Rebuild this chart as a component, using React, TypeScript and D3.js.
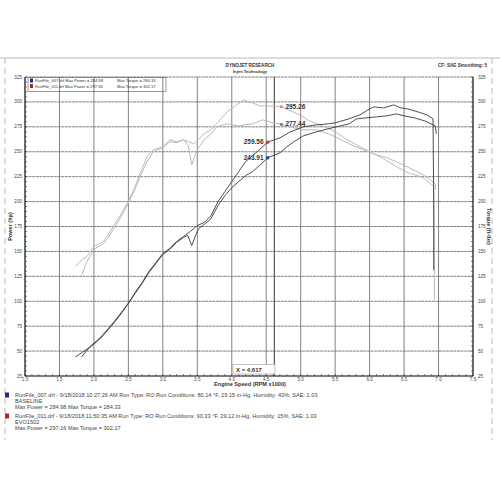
import React from "react";
import * as d3 from "d3";

const xTicks = [1.0, 1.5, 2.0, 2.5, 3.0, 3.5, 4.0, 4.5, 5.0, 5.5, 6.0, 6.5, 7.0, 7.5];
const yTicks = [25, 50, 75, 100, 125, 150, 175, 200, 225, 250, 275, 300, 325];

// EVO1502 run (RunFile_011)
const evoPower: [number, number][] = [
  [1.73, 44], [1.9, 52], [2.0, 58], [2.1, 64], [2.2, 72], [2.3, 80], [2.4, 89], [2.5, 98], [2.6, 109],
  [2.7, 119], [2.8, 130], [2.9, 139], [3.0, 148], [3.1, 153], [3.2, 160], [3.3, 165], [3.4, 170],
  [3.5, 176], [3.6, 179], [3.7, 186], [3.8, 200], [3.9, 210], [4.0, 220], [4.1, 230], [4.2, 240],
  [4.3, 246], [4.4, 252], [4.52, 259.6], [4.7, 264], [4.85, 270], [5.04, 275], [5.23, 277],
  [5.4, 278], [5.5, 279], [5.6, 281], [5.7, 283], [5.86, 287], [5.95, 291], [6.06, 295], [6.2, 294],
  [6.35, 297], [6.45, 294], [6.55, 293], [6.7, 290], [6.83, 287], [6.92, 283], [6.93, 200], [6.93, 131],
];
const evoTorque: [number, number][] = [
  [1.73, 135], [1.8, 140], [1.9, 145], [2.0, 155], [2.14, 160], [2.2, 166], [2.28, 175], [2.38, 186],
  [2.48, 198], [2.58, 212], [2.67, 228], [2.77, 245], [2.86, 252], [3.0, 255], [3.1, 262], [3.2, 260],
  [3.3, 262], [3.45, 258], [3.6, 268], [3.7, 272], [3.78, 278], [3.93, 290], [4.05, 296], [4.17, 302],
  [4.3, 299], [4.41, 296], [4.55, 296], [4.72, 295.3], [4.85, 291], [4.99, 287], [5.1, 282],
  [5.23, 278], [5.35, 275], [5.5, 270], [5.65, 263], [5.81, 257], [6.0, 250], [6.2, 243],
  [6.39, 235], [6.5, 231], [6.59, 228], [6.7, 226], [6.8, 223], [6.93, 215], [6.94, 160], [6.94, 101],
];
// BASELINE run (RunFile_007)
const basePower: [number, number][] = [
  [1.82, 44], [1.9, 51], [2.0, 57], [2.1, 63], [2.2, 71], [2.3, 79], [2.4, 88], [2.5, 98], [2.6, 108],
  [2.7, 118], [2.8, 129], [2.9, 138], [3.0, 147], [3.1, 152], [3.2, 159], [3.3, 164], [3.36, 166],
  [3.42, 156], [3.47, 165], [3.52, 173], [3.6, 177], [3.7, 183], [3.8, 196], [3.9, 206], [4.0, 214],
  [4.1, 220], [4.2, 226], [4.3, 230], [4.4, 236], [4.52, 243.9], [4.7, 249], [4.8, 255], [4.9, 260],
  [5.04, 266], [5.23, 270], [5.4, 273], [5.52, 275], [5.7, 278], [5.81, 283], [5.95, 284],
  [6.1, 285], [6.25, 286], [6.39, 288], [6.5, 286], [6.65, 284], [6.8, 281], [6.95, 276], [6.97, 268],
];
const baseTorque: [number, number][] = [
  [1.82, 126], [1.9, 140], [2.0, 152], [2.14, 158], [2.2, 163], [2.28, 172], [2.38, 183], [2.48, 196],
  [2.58, 210], [2.67, 225], [2.77, 240], [2.86, 250], [3.0, 254], [3.1, 260], [3.2, 259], [3.3, 262],
  [3.37, 256], [3.42, 237], [3.46, 245], [3.5, 252], [3.6, 262], [3.7, 268], [3.78, 275], [3.93, 278],
  [4.1, 276], [4.3, 278], [4.45, 282], [4.6, 279], [4.72, 277.4], [4.9, 274], [5.04, 272], [5.23, 272],
  [5.4, 268], [5.5, 265], [5.7, 258], [5.91, 252], [6.1, 247], [6.25, 244], [6.39, 240], [6.6, 233],
  [6.8, 226], [6.95, 218], [6.96, 212],
];

const cursorRpm = 4.617;
const powerMarkers = [
  { rpm: 4.52, value: 259.56, color: "#c0392b" },
  { rpm: 4.52, value: 243.91, color: "#1f3a93" },
];
const torqueMarkers = [
  { rpm: 4.72, value: 295.26, color: "#e08080" },
  { rpm: 4.72, value: 277.44, color: "#6070b0" },
];

const runs = [
  {
    file: "RunFile_007.drf - 9/18/2018 10:27:26 AM  Run Type: RO  Run Conditions: 80.14 °F, 29.15 in-Hg,  Humidity: 43%,  SAE: 1.03",
    name: "BASELINE",
    max: "Max Power = 284.98  Max Torque = 284.33",
    top: "RunFile_007.drf Max Power = 284.98",
    topT: "Max Torque = 284.33",
    color: "#1f2a8c",
  },
  {
    file: "RunFile_011.drf - 9/18/2018 11:50:35 AM  Run Type: RO  Run Conditions: 90.33 °F, 29.12 in-Hg,  Humidity: 15%,  SAE: 1.03",
    name: "EVO1502",
    max: "Max Power = 297.16  Max Torque = 302.17",
    top: "RunFile_011.drf Max Power = 297.16",
    topT: "Max Torque = 302.17",
    color: "#b22222",
  },
];

export default function App() {
  const x = d3.scaleLinear().domain([1, 7.5]).range([25, 473]);
  const y = d3.scaleLinear().domain([25, 325]).range([376, 77]);
  const line = d3.line<[number, number]>().x((d) => x(d[0])).y((d) => y(d[1]));
  const minorX = d3.range(10, 76).map((v) => v / 10);
  const minorY = d3.range(25, 326, 5);
  const font = "Arial, 'Liberation Sans', sans-serif";

  return (
    <svg width={500} height={500} style={{ position: "absolute", left: 0, top: 0, background: "#fff" }} fontFamily={font}>
      <rect width={500} height={500} fill="#fff" />
      {/* outer frame */}
      <line x1={0} x2={500} y1={58} y2={58} stroke="#bbb" strokeWidth={1.2} />
      <line x1={5} x2={5} y1={58} y2={440} stroke="#bbb" strokeDasharray="6,4" />
      <line x1={492} x2={492} y1={58} y2={440} stroke="#bbb" strokeDasharray="6,4" />

      {/* header */}
      <text x={250} y={67} fontSize={4.6} fontWeight="bold" textAnchor="middle" fill="#333">DYNOJET RESEARCH</text>
      <text x={250} y={72.5} fontSize={4.2} fontWeight="bold" textAnchor="middle" fill="#333">Injen Technology</text>
      <text x={487} y={67} fontSize={4.6} fontWeight="bold" textAnchor="end" fill="#333">CF: SAE  Smoothing: 5</text>

      {/* grid */}
      {xTicks.map((t) => (
        <line key={"gx" + t} x1={x(t)} x2={x(t)} y1={y(325)} y2={y(25)} stroke="#6a6a6a" strokeWidth={0.85} />
      ))}
      {yTicks.map((t) => (
        <line key={"gy" + t} x1={x(1)} x2={x(7.5)} y1={y(t)} y2={y(t)} stroke="#6a6a6a" strokeWidth={0.85} strokeDasharray="3,0.6" />
      ))}

      {/* axes */}
      <line x1={x(1)} x2={x(1)} y1={y(325)} y2={y(25)} stroke="#333" strokeWidth={1.2} />
      <line x1={x(7.5)} x2={x(7.5)} y1={y(325)} y2={y(25)} stroke="#333" strokeWidth={1.2} />
      <line x1={x(1)} x2={x(7.5)} y1={y(25)} y2={y(25)} stroke="#333" strokeWidth={1.2} />
      {minorX.map((t) => (
        <line key={"mx" + t} x1={x(t)} x2={x(t)} y1={y(25)} y2={y(25) - 2} stroke="#333" strokeWidth={0.6} />
      ))}
      {minorY.map((t) => (
        <g key={"my" + t}>
          <line x1={x(1)} x2={x(1) + 2} y1={y(t)} y2={y(t)} stroke="#333" strokeWidth={0.6} />
          <line x1={x(7.5)} x2={x(7.5) - 2} y1={y(t)} y2={y(t)} stroke="#333" strokeWidth={0.6} />
        </g>
      ))}
      {yTicks.map((t) => (
        <g key={"yl" + t}>
          <text x={22} y={y(t) + 1.5} fontSize={4.6} textAnchor="end" fill="#444">{t}</text>
          <text x={478} y={y(t) + 1.5} fontSize={4.6} textAnchor="start" fill="#444">{t}</text>
        </g>
      ))}
      {xTicks.map((t) => (
        <text key={"xl" + t} x={x(t)} y={380.5} fontSize={4.6} textAnchor="middle" fill="#444">{t.toFixed(1)}</text>
      ))}
      <text transform={`translate(12,${y(175)}) rotate(-90)`} fontSize={5.5} fontWeight="bold" textAnchor="middle" fill="#333">Power (hp)</text>
      <text transform={`translate(487,${y(175)}) rotate(90)`} fontSize={5.5} fontWeight="bold" textAnchor="middle" fill="#333">Torque (ft-lbs)</text>
      <text x={250} y={385.5} fontSize={5.6} fontWeight="bold" textAnchor="middle" fill="#333">Engine Speed (RPM x1000)</text>

      {/* cursor */}
      <line x1={x(cursorRpm)} x2={x(cursorRpm)} y1={y(325)} y2={y(25)} stroke="#333" strokeWidth={1} />
      <rect x={233} y={364.5} width={42} height={9.5} fill="#fff" stroke="#999" strokeWidth={0.6} />
      <text x={236} y={371.5} fontSize={6} fontWeight="bold" fill="#333">X = 4.617</text>

      {/* curves */}
      <path d={line(baseTorque) || ""} fill="none" stroke="#b8b8be" strokeWidth={1} />
      <path d={line(evoTorque) || ""} fill="none" stroke="#c4b8b8" strokeWidth={1} />
      <path d={line(basePower) || ""} fill="none" stroke="#3a3a48" strokeWidth={0.9} />
      <path d={line(evoPower) || ""} fill="none" stroke="#4a3535" strokeWidth={0.9} />

      {/* markers */}
      {powerMarkers.map((m) => (
        <g key={"pm" + m.value}>
          <rect x={x(m.rpm) - 1.5} y={y(m.value) - 1.5} width={3} height={3} fill={m.color} />
          <text x={x(m.rpm) - 4} y={y(m.value) + 2} fontSize={6.5} fontWeight="bold" textAnchor="end" fill="#333">{m.value.toFixed(2)}</text>
        </g>
      ))}
      {torqueMarkers.map((m) => (
        <g key={"tm" + m.value}>
          <rect x={x(m.rpm) - 1.3} y={y(m.value) - 1.3} width={2.6} height={2.6} fill={m.color} />
          <text x={x(m.rpm) + 4} y={y(m.value) + 2} fontSize={6.5} fontWeight="bold" textAnchor="start" fill="#333">{m.value.toFixed(2)}</text>
        </g>
      ))}

      {/* top legend */}
      <rect x={28} y={77.5} width={138} height={14} fill="none" stroke="#555" strokeWidth={0.6} />
      {runs.map((r, i) => (
        <g key={"tl" + i}>
          <rect x={30} y={78.5 + i * 5.5} width={3} height={4} fill={r.color} />
          <text x={35} y={82 + i * 5.5} fontSize={4.1} fill="#333">{r.top}</text>
          <text x={117} y={82 + i * 5.5} fontSize={4.1} fill="#333">{r.topT}</text>
        </g>
      ))}

      {/* bottom legend */}
      {runs.map((r, i) => (
        <g key={"bl" + i}>
          <rect x={5} y={392.5 + i * 21} width={4} height={5} fill={r.color} />
          <text x={15} y={397 + i * 21} fontSize={5.6} fill="#444">{r.file}</text>
          <text x={15} y={403 + i * 21} fontSize={5.6} fill="#444">{r.name}</text>
          <text x={15} y={409 + i * 21} fontSize={5.6} fill="#444">{r.max}</text>
        </g>
      ))}
    </svg>
  );
}
